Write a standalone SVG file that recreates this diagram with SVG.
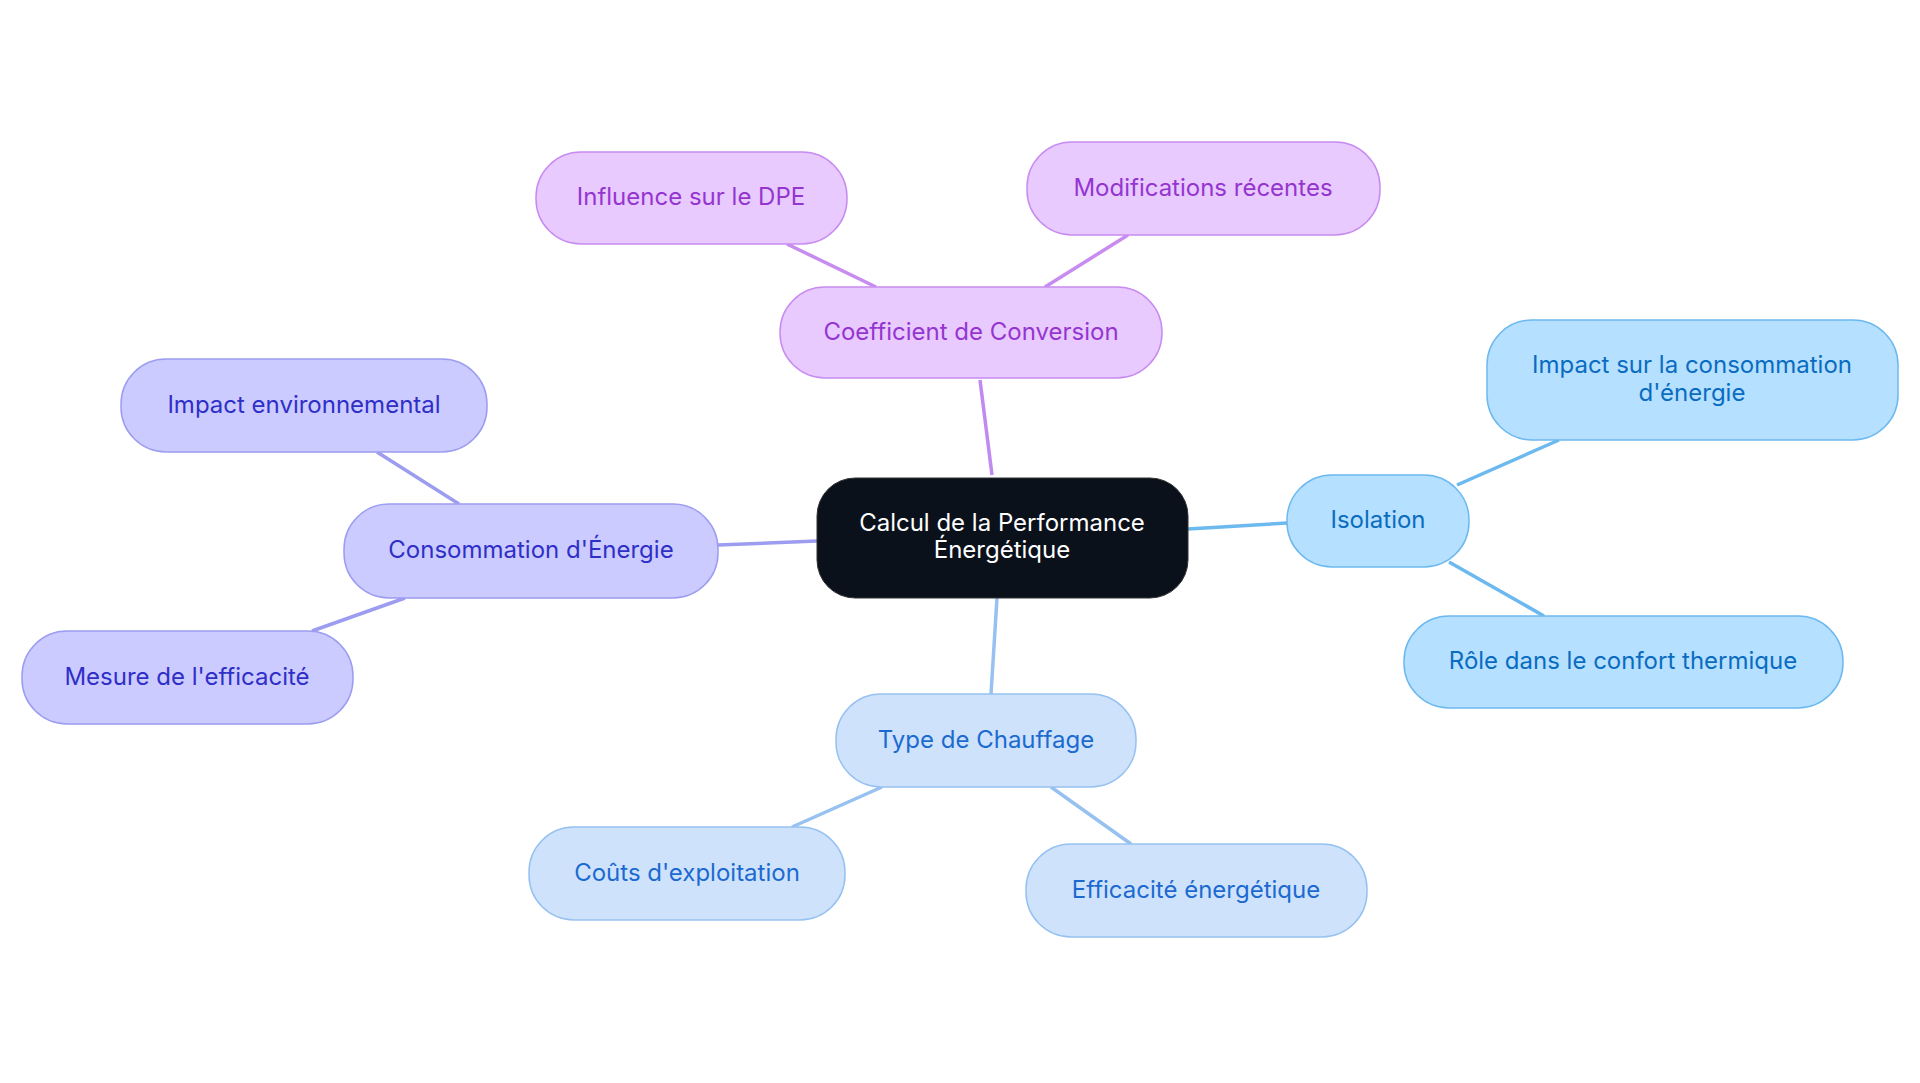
<svg xmlns="http://www.w3.org/2000/svg" width="1920" height="1083" viewBox="0 0 1920 1083">
<style>
text{font-family:Inter,"Noto Sans","Liberation Sans",sans-serif;font-size:24px;text-anchor:middle;dominant-baseline:central}
.p rect{fill:#e8caff;stroke:#c88cf0;stroke-width:1.5}.p text{fill:#9535d0}
.v rect{fill:#cbcbff;stroke:#9c9cf0;stroke-width:1.5}.v text{fill:#2f2fc8}
.b rect{fill:#b5e0ff;stroke:#6cb9ef;stroke-width:1.5}.b text{fill:#0a6cc0}
.l rect{fill:#cee3fb;stroke:#96c1f1;stroke-width:1.5}.l text{fill:#1c6ad0}
#edges line{stroke-width:3.5}
</style>
<rect width="1920" height="1083" fill="#fff"/>
<g id="edges">
<line x1="992" y1="475" x2="980" y2="380" stroke="#c08af0"/>
<line x1="876" y1="287" x2="787" y2="244" stroke="#c88cf0"/>
<line x1="1045" y1="287" x2="1128" y2="235" stroke="#c88cf0"/>
<line x1="1188" y1="529" x2="1287" y2="523" stroke="#6cb9ef"/>
<line x1="1457" y1="485" x2="1559" y2="440" stroke="#6cb9ef"/>
<line x1="1449" y1="562" x2="1544" y2="616" stroke="#6cb9ef"/>
<line x1="997" y1="598" x2="991" y2="694" stroke="#96c1f1"/>
<line x1="882" y1="787" x2="792" y2="827" stroke="#96c1f1"/>
<line x1="1051" y1="787" x2="1131" y2="844" stroke="#96c1f1"/>
<line x1="817" y1="541" x2="718" y2="545" stroke="#9c9cf0"/>
<line x1="459" y1="504" x2="377" y2="452" stroke="#9c9cf0"/>
<line x1="405" y1="598" x2="312" y2="631" stroke="#9c9cf0"/>
</g>
<g id="center"><rect x="817" y="478" width="371" height="120" rx="38" fill="#0b111b" stroke="#333"/><text x="1002" y="522" fill="#fff">Calcul de la Performance</text><text x="1002" y="549" fill="#fff">Énergétique</text></g>
<g id="coef" class="p"><rect x="780" y="287" width="382" height="91" rx="45"/><text x="971" y="331">Coefficient de Conversion</text></g>
<g id="influence" class="p"><rect x="536" y="152" width="311" height="92" rx="45"/><text x="691" y="196">Influence sur le DPE</text></g>
<g id="modif" class="p"><rect x="1027" y="142" width="353" height="93" rx="45"/><text x="1203" y="187">Modifications récentes</text></g>
<g id="isolation" class="b"><rect x="1287" y="475" width="182" height="92" rx="45"/><text x="1378" y="519">Isolation</text></g>
<g id="impactconso" class="b"><rect x="1487" y="320" width="411" height="120" rx="45"/><text x="1692" y="364">Impact sur la consommation</text><text x="1692" y="392">d'énergie</text></g>
<g id="role" class="b"><rect x="1404" y="616" width="439" height="92" rx="45"/><text x="1623" y="660">Rôle dans le confort thermique</text></g>
<g id="type" class="l"><rect x="836" y="694" width="300" height="93" rx="45"/><text x="986" y="739">Type de Chauffage</text></g>
<g id="couts" class="l"><rect x="529" y="827" width="316" height="93" rx="45"/><text x="687" y="872">Coûts d'exploitation</text></g>
<g id="efficacite" class="l"><rect x="1026" y="844" width="341" height="93" rx="45"/><text x="1196" y="889">Efficacité énergétique</text></g>
<g id="conso" class="v"><rect x="344" y="504" width="374" height="94" rx="45"/><text x="531" y="549">Consommation d'Énergie</text></g>
<g id="env" class="v"><rect x="121" y="359" width="366" height="93" rx="45"/><text x="304" y="404">Impact environnemental</text></g>
<g id="mesure" class="v"><rect x="22" y="631" width="331" height="93" rx="45"/><text x="187" y="676">Mesure de l'efficacité</text></g>
</svg>
